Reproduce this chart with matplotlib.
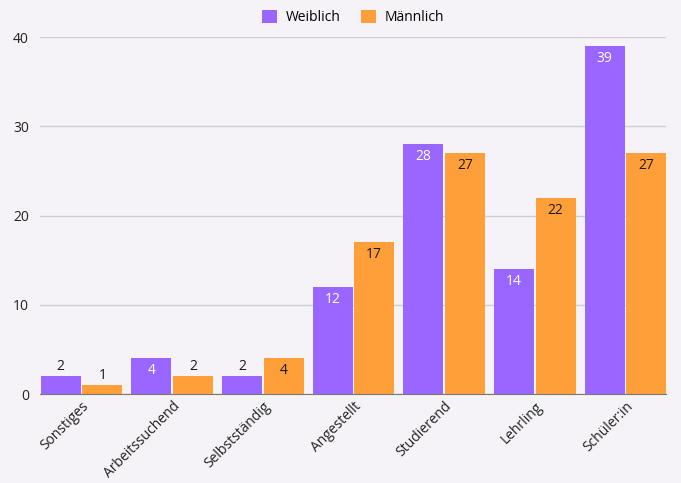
import numpy as np
import matplotlib
matplotlib.use("Agg")
import matplotlib.pyplot as plt

categories = ["Sonstiges", "Arbeitssuchend", "Selbstständig", "Angestellt",
              "Studierend", "Lehrling", "Schüler:in"]
weiblich = [2, 4, 2, 12, 28, 14, 39]
maennlich = [1, 2, 4, 17, 27, 22, 27]

PURPLE = "#9966FF"
ORANGE = "#FF9F3A"
BG = "#F5F3F7"

plt.rcParams["font.family"] = ["Open Sans", "DejaVu Sans"]

fig = plt.figure(figsize=(6.81, 4.83), dpi=100, facecolor=BG)
ax = fig.add_axes([40 / 681, 0.184, 626 / 681, 0.739], facecolor=BG)

x = np.arange(len(categories))
w = 0.441
off = 0.229
b1 = ax.bar(x - off, weiblich, w, color=PURPLE, label="Weiblich", zorder=3)
b2 = ax.bar(x + off, maennlich, w, color=ORANGE, label="Männlich", zorder=3)

for bars, vals, inside_col in [(b1, weiblich, "white"), (b2, maennlich, "#1a1a1a")]:
    for r, v in zip(bars, vals):
        cx = r.get_x() + r.get_width() / 2
        if v >= 4:
            ax.text(cx, v - 0.55, str(v), ha="center", va="top", fontsize=10,
                    color=inside_col, zorder=4)
        else:
            ax.text(cx, v + 0.3, str(v), ha="center", va="bottom", fontsize=10,
                    color="#1a1a1a", zorder=4)

ax.set_xlim(-0.458, 6.447)
ax.set_ylim(0, 40)
ax.set_yticks([0, 10, 20, 30, 40])
ax.yaxis.grid(True, color="#cfcfcf", linewidth=1, zorder=0)
ax.set_axisbelow(True)
for s in ["top", "right", "left"]:
    ax.spines[s].set_visible(False)
ax.spines["bottom"].set_color("#777777")
ax.tick_params(axis="both", length=0, labelsize=10, colors="#222222")
ax.tick_params(axis="y", pad=8)
ax.set_xticks(x)
ax.set_xticklabels(categories, rotation=45, ha="right", rotation_mode="anchor")

ax.legend(loc="lower center", bbox_to_anchor=(0.5, 1.01), ncol=2, frameon=False,
          fontsize=10, handlelength=1.1, handleheight=1.1, columnspacing=1.5,
          handletextpad=0.6, borderaxespad=0.2)

fig.savefig("out.png", dpi=100, facecolor=BG)
